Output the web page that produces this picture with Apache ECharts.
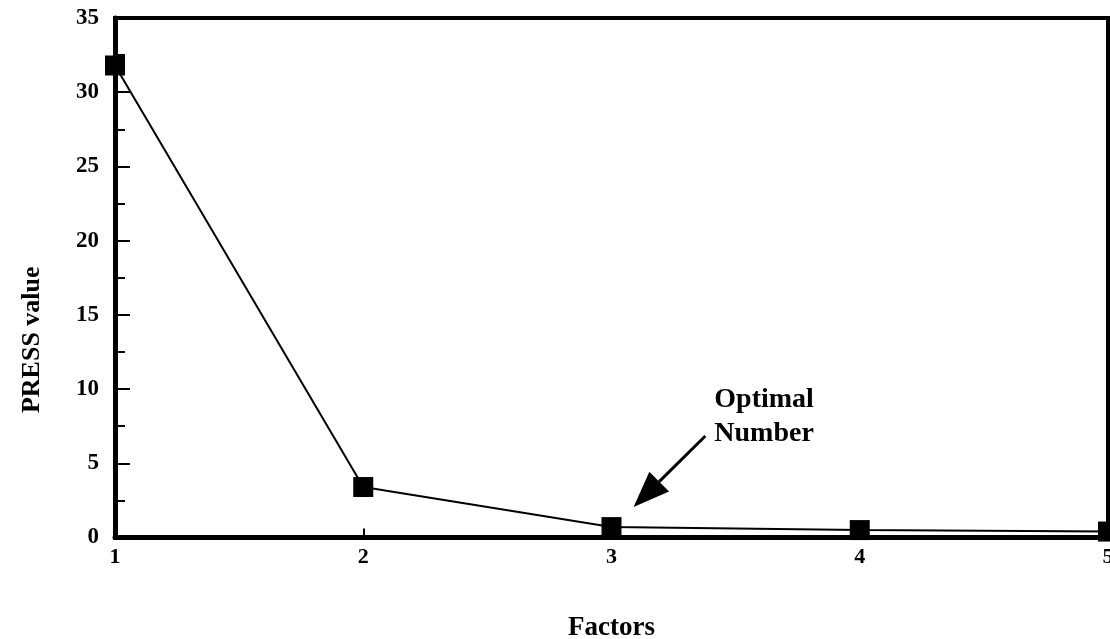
<!DOCTYPE html>
<html>
<head>
<meta charset="utf-8">
<script src="https://cdn.jsdelivr.net/npm/echarts@6/dist/echarts.min.js"></script>
<style>
html,body{margin:0;padding:0;background:#fff;}
#chart{width:1110px;height:639px;}
</style>
</head>
<body>
<div id="chart"></div>
<script>
var factors = [1, 2, 3, 4, 5];
var pressValues = [31.8, 3.4, 0.7, 0.5, 0.4];
var xTicks = [1, 2, 3, 4, 5];
var yTicks = [0, 5, 10, 15, 20, 25, 30, 35];
var annotationText = ['Optimal', 'Number'];
var annotationTextAt = [3.414, 10.45];
var arrowTail = [3.378, 6.84];
var arrowTip = [3.089, 2.06];

var FONT = '"Liberation Serif", "DejaVu Serif", serif';
var chart = echarts.init(document.getElementById('chart'));
var seriesData = factors.map(function (f, i) { return [f, pressValues[i]]; });

chart.setOption({
  animation: false,
  backgroundColor: '#fff',
  grid: {left: 115, right: 2, top: 18, bottom: 101.5, show: true, borderColor: '#000', borderWidth: 4, backgroundColor: 'transparent', containLabel: false, outerBoundsMode: 'none'},
  xAxis: {
    type: 'value', min: xTicks[0], max: xTicks[xTicks.length - 1], interval: 1,
    name: 'Factors', nameLocation: 'middle', nameGap: 77,
    nameTextStyle: {fontFamily: FONT, fontWeight: 'bold', fontSize: 27, color: '#000'},
    axisLine: {lineStyle: {color: '#000', width: 5}},
    axisTick: {inside: true, length: 9, lineStyle: {color: '#000', width: 2}},
    axisLabel: {margin: 9, fontFamily: FONT, fontWeight: 'bold', fontSize: 22, color: '#000'},
    splitLine: {show: false}
  },
  yAxis: {
    type: 'value', min: yTicks[0], max: yTicks[yTicks.length - 1], interval: 5,
    name: 'PRESS value', nameLocation: 'middle', nameGap: 70, nameRotate: 90,
    nameTextStyle: {fontFamily: FONT, fontWeight: 'bold', fontSize: 26, color: '#000', padding: [0, 124, 0, 0]},
    axisLine: {show: true, lineStyle: {color: '#000', width: 5}},
    axisTick: {inside: true, length: 15, lineStyle: {color: '#000', width: 2}},
    minorTick: {show: true, splitNumber: 2, length: 10, lineStyle: {color: '#000', width: 2}},
    axisLabel: {margin: 16, fontFamily: FONT, fontWeight: 'bold', fontSize: 23, color: '#000'},
    splitLine: {show: false}
  },
  series: [{
    type: 'line',
    data: seriesData,
    symbol: 'rect',
    symbolSize: 20,
    clip: false,
    lineStyle: {color: '#000', width: 2},
    itemStyle: {color: '#000'}
  }]
});

function drawAnnotation() {
  var tail = chart.convertToPixel({gridIndex: 0}, arrowTail);
  var tip = chart.convertToPixel({gridIndex: 0}, arrowTip);
  var txt = chart.convertToPixel({gridIndex: 0}, annotationTextAt);
  var dx = tip[0] - tail[0], dy = tip[1] - tail[1];
  var len = Math.sqrt(dx * dx + dy * dy);
  var ux = dx / len, uy = dy / len;
  var headLen = 36, headW = 28;
  var bx = tip[0] - ux * headLen, by = tip[1] - uy * headLen;
  var px = -uy, py = ux;
  chart.setOption({
    graphic: [
      {type: 'line', shape: {x1: tail[0], y1: tail[1], x2: bx, y2: by}, style: {stroke: '#000', lineWidth: 3}},
      {type: 'polygon', shape: {points: [[tip[0], tip[1]], [bx + px * headW / 2, by + py * headW / 2], [bx - px * headW / 2, by - py * headW / 2]]}, style: {fill: '#000'}},
      {type: 'text', x: txt[0], y: txt[1], style: {text: annotationText.join('\n'), font: 'bold 28px ' + FONT, fill: '#000', lineHeight: 34, textAlign: 'left', textVerticalAlign: 'top'}}
    ]
  });
}
drawAnnotation();
</script>
</body>
</html>
